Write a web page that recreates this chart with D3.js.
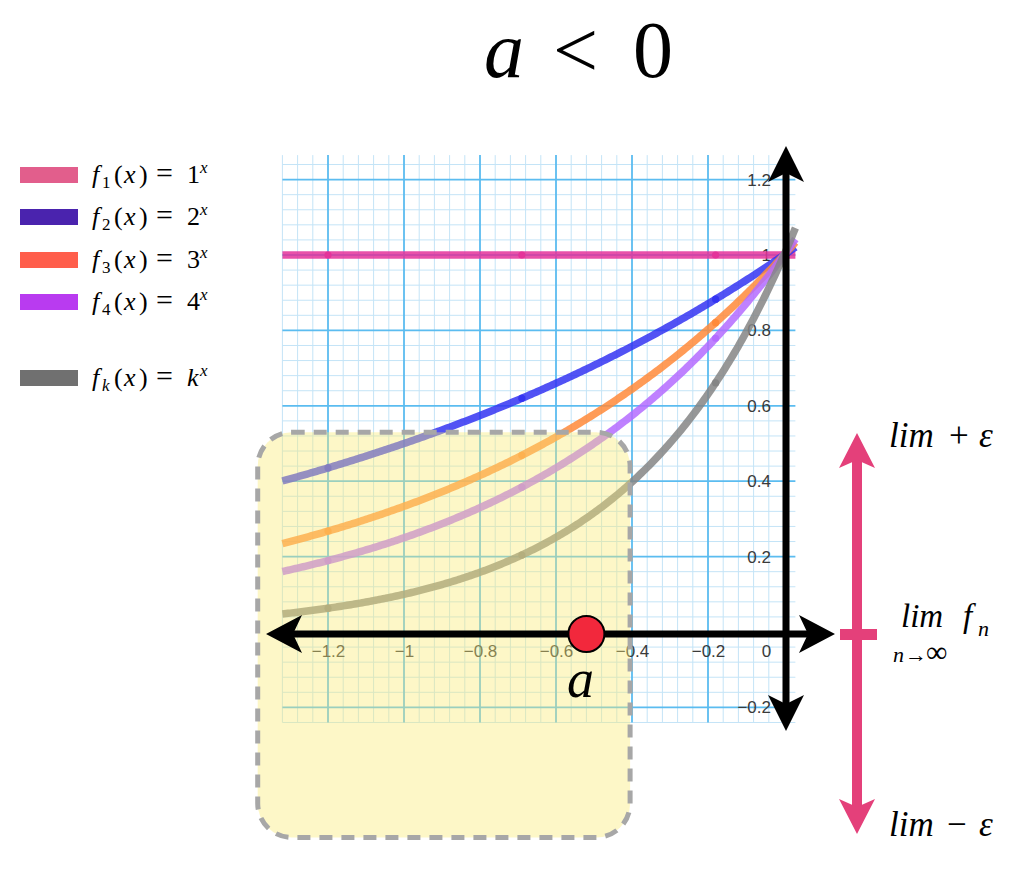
<!DOCTYPE html>
<html>
<head>
<meta charset="utf-8">
<script src="https://cdn.jsdelivr.net/npm/d3@7"></script>
<style>
  html, body { margin: 0; padding: 0; background: #ffffff; }
  svg { display: block; }
</style>
</head>
<body>
<script>
// ---------------- data ----------------
const bases = [1, 2, 3, 4, 10];
const subscripts = ["1", "2", "3", "4", "k"];
const baseLabels = ["1", "2", "3", "4", "k"];
const lineColors = ["#e4339a", "#3434f2", "#ff8a3a", "#b46bff", "#858585"];
const legendColors = ["#e25e8c", "#4a23ae", "#ff5e4b", "#b93bf0", "#707070"];
const dotXs = [-1.2, -0.69, -0.18];
const xTicks = [-1.2, -1, -0.8, -0.6, -0.4, -0.2, 0];
const yTicks = [-0.2, 0.2, 0.4, 0.6, 0.8, 1, 1.2];
const xDomain = [-1.32, 0.03];
const yDomain = [-0.24, 1.265];
const aValue = -0.52;
const boxX = [-1.385, -0.405];
const boxY = [0.53, -0.545];

// ---------------- setup ----------------
const W = 1024, H = 872;
const svg = d3.select("body").append("svg").attr("width", W).attr("height", H);
const x = d3.scaleLinear().domain([-1.2, 0]).range([328, 784]);
const y = d3.scaleLinear().domain([0, 1]).range([632, 255]);
const serif = "Liberation Serif";
const sans = "Liberation Sans";

// ---------------- grid ----------------
const grid = svg.append("g");
const eps = 1e-9;
const minorStep = 0.04;
const vMinor = d3.range(Math.ceil(xDomain[0] / minorStep - eps), Math.floor(xDomain[1] / minorStep + eps) + 1).map(i => +(i * minorStep).toFixed(3));
const hMinor = d3.range(Math.ceil(yDomain[0] / minorStep - eps), Math.floor(yDomain[1] / minorStep + eps) + 1).map(i => +(i * minorStep).toFixed(3));
const isMajor = v => Math.abs(v / 0.2 - Math.round(v / 0.2)) < 1e-6;

grid.selectAll("line.vmin").data(vMinor.filter(v => !isMajor(v))).join("line")
  .attr("x1", d => x(d)).attr("x2", d => x(d))
  .attr("y1", y(yDomain[1])).attr("y2", y(yDomain[0]))
  .attr("stroke", "#c4e4f7").attr("stroke-width", 1);
grid.selectAll("line.hmin").data(hMinor.filter(v => !isMajor(v))).join("line")
  .attr("y1", d => y(d)).attr("y2", d => y(d))
  .attr("x1", x(xDomain[0])).attr("x2", x(xDomain[1]))
  .attr("stroke", "#c4e4f7").attr("stroke-width", 1);
grid.selectAll("line.vmaj").data(vMinor.filter(isMajor)).join("line")
  .attr("x1", d => x(d)).attr("x2", d => x(d))
  .attr("y1", y(yDomain[1])).attr("y2", y(yDomain[0]))
  .attr("stroke", "#5bbcf0").attr("stroke-width", 1.8);
grid.selectAll("line.hmaj").data(hMinor.filter(isMajor)).join("line")
  .attr("y1", d => y(d)).attr("y2", d => y(d))
  .attr("x1", x(xDomain[0])).attr("x2", x(xDomain[1]))
  .attr("stroke", "#5bbcf0").attr("stroke-width", 1.8);

// ---------------- tick labels (d3 axes) ----------------
const fmt = d => d === 0 ? "0" : d3.format("~g")(d);
const xAx = svg.append("g").attr("transform", `translate(0,${y(0)})`)
  .call(d3.axisBottom(x).tickValues(xTicks).tickSize(0).tickPadding(13).tickFormat(fmt));
xAx.select(".domain").remove();
xAx.selectAll("text").style("font-family", sans).style("font-size", "17px").attr("fill", "#3a3a3a");
xAx.selectAll(".tick").filter(d => d === 0).select("text").attr("dx", -18);

const yAx = svg.append("g").attr("transform", `translate(${x(0)},0)`)
  .call(d3.axisLeft(y).tickValues(yTicks).tickSize(0).tickPadding(13).tickFormat(fmt));
yAx.select(".domain").remove();
yAx.selectAll("text").style("font-family", sans).style("font-size", "17px").attr("fill", "#3a3a3a");

// ---------------- curves ----------------
const xs = d3.range(xDomain[0], xDomain[1] + 0.0001, 0.005);
const line = d3.line().x(d => x(d[0])).y(d => y(d[1])).curve(d3.curveLinear);
const curves = svg.append("g");
bases.forEach((b, i) => {
  const pts = xs.map(v => [v, Math.pow(b, v)]);
  curves.append("path").datum(pts)
    .attr("d", line).attr("fill", "none")
    .attr("stroke", lineColors[i]).attr("stroke-width", 7.5)
    .attr("stroke-opacity", 0.85);
  curves.selectAll(null).data(dotXs).join("circle")
    .attr("cx", d => x(d)).attr("cy", d => y(Math.pow(b, d)))
    .attr("r", 3.6).attr("fill", lineColors[i]);
});

// ---------------- highlight box ----------------
svg.append("rect")
  .attr("x", x(boxX[0])).attr("y", y(boxY[0]))
  .attr("width", x(boxX[1]) - x(boxX[0])).attr("height", y(boxY[1]) - y(boxY[0]))
  .attr("rx", 34).attr("ry", 34)
  .attr("fill", "rgb(250,234,115)").attr("fill-opacity", 0.4)
  .attr("stroke", "#a7a7a7").attr("stroke-width", 5)
  .attr("stroke-dasharray", "13,9");

// ---------------- black axes with arrowheads ----------------
function arrowHead(g, tipX, tipY, dx, dy, L, Wd, notch, color) {
  const px = -dy, py = dx;
  const bx = tipX - dx * L, by = tipY - dy * L;
  const nx = tipX - dx * (L - notch), ny = tipY - dy * (L - notch);
  g.append("path")
    .attr("d", `M${tipX},${tipY} L${bx + px * Wd},${by + py * Wd} L${nx},${ny} L${bx - px * Wd},${by - py * Wd} Z`)
    .attr("fill", color);
}
const axes = svg.append("g");
const ax0 = y(0) + 2, ay0 = x(0) + 2;
axes.append("line").attr("x1", 285).attr("x2", 815).attr("y1", ax0).attr("y2", ax0)
  .attr("stroke", "#000").attr("stroke-width", 7);
arrowHead(axes, 266, ax0, -1, 0, 36, 19, 9, "#000");
arrowHead(axes, 835, ax0, 1, 0, 36, 19, 9, "#000");
axes.append("line").attr("x1", ay0).attr("x2", ay0).attr("y1", 165).attr("y2", 712)
  .attr("stroke", "#000").attr("stroke-width", 7);
arrowHead(axes, ay0, 146, 0, -1, 36, 18, 9, "#000");
arrowHead(axes, ay0, 731, 0, 1, 36, 18, 9, "#000");

// ---------------- point a ----------------
svg.append("circle").attr("cx", x(aValue)).attr("cy", ax0).attr("r", 18)
  .attr("fill", "#f2283c").attr("stroke", "#000").attr("stroke-width", 2);
svg.append("text").attr("x", x(aValue) - 6).attr("y", 697)
  .attr("text-anchor", "middle").style("font-family", serif).attr("font-style", "italic")
  .style("font-size", "54px").attr("fill", "#000").text("a");

// ---------------- title ----------------
const title = svg.append("g").style("font-family", serif).style("font-size", "80px").attr("fill", "#000");
title.append("text").attr("x", 484).attr("y", 77).attr("font-style", "italic").text("a");
title.append("text").attr("x", 553).attr("y", 77).text("<");
title.append("text").attr("x", 633).attr("y", 77).text("0");

// ---------------- math text helper ----------------
function mathText(g, x0, y0, size, pieces) {
  const t = g.append("text").attr("x", x0).attr("y", y0)
    .style("font-family", serif).style("font-size", size + "px").attr("fill", "#000");
  pieces.forEach(p => {
    const s = t.append("tspan").attr("x", x0 + p.x).attr("y", y0 + (p.dy || 0))
      .style("font-size", (p.size || size) + "px").text(p.t);
    if (p.it) s.attr("font-style", "italic");
  });
  return t;
}

// ---------------- legend ----------------
const legend = svg.append("g");
const legendY = [175, 217, 260, 302, 378];
bases.forEach((b, i) => {
  const cy = legendY[i];
  legend.append("rect").attr("x", 20).attr("y", cy - 8).attr("width", 58).attr("height", 16)
    .attr("fill", legendColors[i]);
  const base = baseLabels[i];
  mathText(legend, 92, cy + 8, 26, [
    { t: "f", it: true, x: 0 },
    { t: subscripts[i], it: subscripts[i] === "k", x: 10, dy: 5, size: 17 },
    { t: "(", x: 22 },
    { t: "x", it: true, x: 32 },
    { t: ")", x: 47 },
    { t: "=", x: 64, size: 30 },
    { t: base, it: base === "k", x: 95 },
    { t: "x", it: true, x: 108, dy: -10, size: 17 }
  ]);
});

// ---------------- epsilon arrow ----------------
const pink = "#e4407a";
const eg = svg.append("g");
const ex = 857;
eg.append("line").attr("x1", ex).attr("x2", ex).attr("y1", 455).attr("y2", 812)
  .attr("stroke", pink).attr("stroke-width", 10);
arrowHead(eg, ex, 433, 0, -1, 35, 18, 8, pink);
arrowHead(eg, ex, 834, 0, 1, 35, 18, 8, pink);
eg.append("rect").attr("x", 840).attr("y", 629).attr("width", 37).attr("height", 11).attr("fill", pink);

mathText(eg, 889, 447, 35, [
  { t: "lim", it: true, x: 0 },
  { t: "+", x: 60 },
  { t: "ε", it: true, x: 90 }
]);
mathText(eg, 889, 836, 35, [
  { t: "lim", it: true, x: 0 },
  { t: "−", x: 58 },
  { t: "ε", it: true, x: 90 }
]);
mathText(eg, 901, 627, 33, [
  { t: "lim", it: true, x: 0 },
  { t: "f", it: true, x: 62 },
  { t: "n", it: true, x: 77, dy: 9, size: 22 }
]);
mathText(eg, 893, 662, 22, [
  { t: "n", it: true, x: 0 },
  { t: "→", x: 12 },
  { t: "∞", x: 33, size: 30 }
]);
</script>
</body>
</html>
